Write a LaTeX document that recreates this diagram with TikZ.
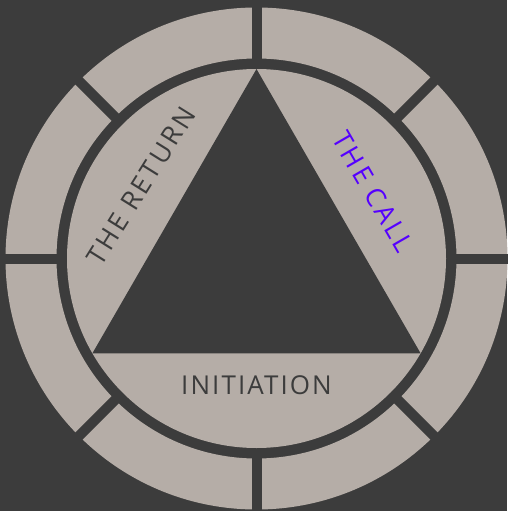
\documentclass[tikz,border=0pt]{standalone}
\usepackage{fontspec}
\newfontfamily\labelfont{Open Sans}[LetterSpace=8]
\newfontfamily\sidefont{Open Sans}[LetterSpace=11]
\begin{document}
\begin{tikzpicture}[x=1pt, y=-1pt,
    every node/.style={font=\labelfont\fontsize{26}{30}\selectfont, inner sep=0pt},
    sidelabel/.style={font=\sidefont\fontsize{26.5}{30}\selectfont}
]

% Define colors
\definecolor{backdark}{RGB}{60,60,60}
\definecolor{stonegray}{RGB}{181,173,167}
\definecolor{callblue}{RGB}{85,0,255}

% Background
\fill[backdark] (0,0) rectangle (507,511);
\useasboundingbox (0,0) rectangle (507,511);

% Outer ring
\fill[stonegray, even odd rule] (256.5,258.5) circle (251) (256.5,258.5) circle (200);

% Gaps between the ring segments
\foreach \a in {0,45,90,135} {
    \draw[backdark, line width=10pt] (256.5,258.5) ++(\a:260) -- ++(\a+180:520);
}

% Inner disc
\fill[stonegray] (256.5,258.5) circle (189.5);

% Triangle
\fill[backdark] (256.5,69) -- (420.6,353.3) -- (92.4,353.3) -- cycle;

% Labels
\node[sidelabel, text=backdark, rotate=58] (return) at (141,186) {THE RETURN};
\node[sidelabel, text=callblue, rotate=-60] (call) at (373,192) {THE CALL};
\node[text=backdark] (initiation) at (256.5,385) {INITIATION};

\end{tikzpicture}
\end{document}
